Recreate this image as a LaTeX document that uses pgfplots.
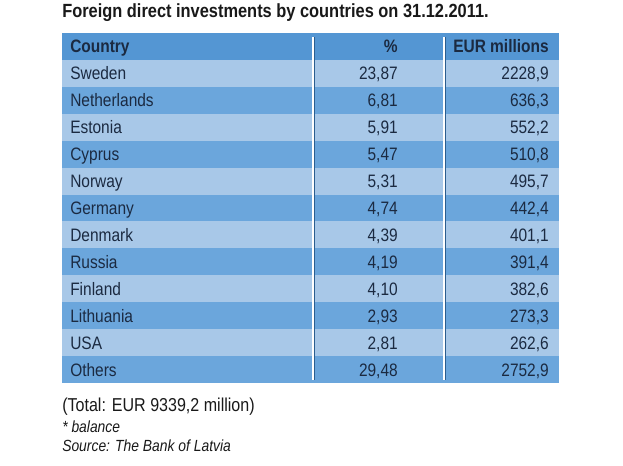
\documentclass[border=0pt]{standalone}
\usepackage{pgfplots}
\pgfplotsset{compat=1.18}
\usepackage{pgfplotstable}
\usepackage{fontspec}
\setmainfont{Liberation Sans}[FakeStretch=0.86]

\definecolor{hdr}{HTML}{5496D3}
\definecolor{lite}{HTML}{A8C8E8}
\definecolor{med}{HTML}{6BA6DC}
\definecolor{txt}{HTML}{1B2A41}
\definecolor{shadow}{HTML}{2A5D8F}

\pgfplotstableread{
row country pct eur
1 Sweden 23,87 2228,9
2 Netherlands 6,81 636,3
3 Estonia 5,91 552,2
4 Cyprus 5,47 510,8
5 Norway 5,31 495,7
6 Germany 4,74 442,4
7 Denmark 4,39 401,1
8 Russia 4,19 391,4
9 Finland 4,10 382,6
10 Lithuania 2,93 273,3
11 USA 2,81 262,6
12 Others 29,48 2752,9
}\fdi

\newcommand\rowfont{\fontsize{13.5}{15}\selectfont}

\begin{document}
\begin{tikzpicture}
\begin{axis}[x=0.75pt, y=0.75pt, xmin=0, xmax=623, ymin=0, ymax=466,
  axis lines=none, clip=false]
\path (axis cs:0,0) rectangle (axis cs:623,466);
% backgrounds
\addplot[fill=lite, draw=none] coordinates {(62,83.04) (559,83.04) (559,406.08) (62,406.08)} -- cycle;
\addplot[fill=hdr, draw=none] coordinates {(62,406.08) (559,406.08) (559,433) (62,433)} -- cycle;
\addplot[fill=med, draw=none] coordinates {(62,352.24) (559,352.24) (559,379.16) (62,379.16)} -- cycle;
\addplot[fill=med, draw=none] coordinates {(62,298.40) (559,298.40) (559,325.32) (62,325.32)} -- cycle;
\addplot[fill=med, draw=none] coordinates {(62,244.56) (559,244.56) (559,271.48) (62,271.48)} -- cycle;
\addplot[fill=med, draw=none] coordinates {(62,190.72) (559,190.72) (559,217.64) (62,217.64)} -- cycle;
\addplot[fill=med, draw=none] coordinates {(62,136.88) (559,136.88) (559,163.80) (62,163.80)} -- cycle;
\addplot[fill=med, draw=none] coordinates {(62,83.04) (559,83.04) (559,109.96) (62,109.96)} -- cycle;
% column separators
\addplot[shadow, line width=0.6pt] coordinates {(314.6,86) (314.6,429)};
\addplot[white, line width=1.5pt] coordinates {(313,86) (313,429)};
\addplot[shadow, line width=0.6pt] coordinates {(445.6,86) (445.6,429)};
\addplot[white, line width=1.5pt] coordinates {(444,86) (444,429)};
% table texts
\addplot[draw=none, nodes near coords, point meta=explicit symbolic,
  every node near coord/.append style={anchor=base west, inner sep=0pt, font=\rowfont, text=txt}]
  table[x expr=70, y expr={413.0-26.92*\thisrow{row}}, meta=country] {\fdi};
\addplot[draw=none, nodes near coords, point meta=explicit symbolic,
  every node near coord/.append style={anchor=base east, inner sep=0pt, font=\rowfont, text=txt}]
  table[x expr=398, y expr={413.0-26.92*\thisrow{row}}, meta=pct] {\fdi};
\addplot[draw=none, nodes near coords, point meta=explicit symbolic,
  every node near coord/.append style={anchor=base east, inner sep=0pt, font=\rowfont, text=txt}]
  table[x expr=549, y expr={413.0-26.92*\thisrow{row}}, meta=eur] {\fdi};
% header
\node[anchor=base west, inner sep=0pt, font=\rowfont\bfseries, text=txt] at (axis cs:70,413.0) {Country};
\node[anchor=base east, inner sep=0pt, font=\rowfont\bfseries, text=txt] at (axis cs:398,413.0) {\%};
\node[anchor=base east, inner sep=0pt, font=\rowfont\bfseries, text=txt] at (axis cs:549,413.0) {EUR millions};
% title
\node[anchor=base west, inner sep=0pt, font=\fontsize{14.3}{17}\selectfont\bfseries, text=black!90] at (axis cs:62,448) {Foreign direct investments by countries on 31.12.2011.};
% notes
\node[anchor=base west, inner sep=0pt, font=\fontsize{14}{16}\selectfont, text=black!90] at (axis cs:62,54) {(Total: EUR 9339,2 million)};
\node[anchor=base west, inner sep=0pt, font=\fontsize{12.1}{14}\selectfont\itshape, text=black!90] at (axis cs:62,33) {* balance};
\node[anchor=base west, inner sep=0pt, font=\fontsize{12.1}{14}\selectfont\itshape, text=black!90] at (axis cs:62,14) {Source: The Bank of Latvia};
\end{axis}
\end{tikzpicture}
\end{document}
